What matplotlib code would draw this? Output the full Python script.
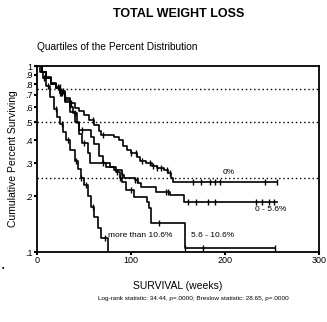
import numpy as np
import matplotlib
matplotlib.use("Agg")
import matplotlib.pyplot as plt
from matplotlib.ticker import FixedLocator, NullLocator

plt.rcParams["font.family"] = ["Liberation Sans", "DejaVu Sans"]

# Kaplan-Meier step curves (weeks, cumulative proportion surviving)
t_0 = [0, 5, 10, 15, 20, 25, 29.5, 35, 40, 45, 50, 55, 61, 66, 68, 82, 87, 92, 96,
       100, 106, 110, 116, 122, 128, 135, 140, 143, 145, 256]
s_0 = [1.0, 0.93, 0.87, 0.81, 0.77, 0.73, 0.673, 0.63, 0.594, 0.57, 0.545, 0.51, 0.482,
       0.45, 0.426, 0.415, 0.40, 0.37, 0.354, 0.34, 0.324, 0.31, 0.30, 0.29, 0.283,
       0.276, 0.265, 0.25, 0.238, 0.238]
c_0 = [22, 24, 26, 28, 30, 36, 60, 70, 100, 105, 112, 120, 124, 128, 132, 138, 142,
       166, 175, 184, 189, 195, 243, 256]

t_1 = [0, 5, 10, 15, 20, 25, 30, 35, 38, 43, 45, 54, 58, 61, 66, 70, 74, 82, 90, 93,
       100, 104, 108, 111, 124, 127, 135, 142, 153, 156, 255]
s_1 = [1.0, 0.93, 0.86, 0.80, 0.76, 0.72, 0.66, 0.60, 0.56, 0.494, 0.453, 0.453, 0.415,
       0.38, 0.33, 0.30, 0.287, 0.276, 0.26, 0.25, 0.25, 0.244, 0.235, 0.224, 0.224,
       0.21, 0.21, 0.202, 0.202, 0.186, 0.186]
c_1 = [25, 27, 40, 48, 70, 90, 104, 107, 137, 139, 161, 169, 182, 189, 233, 240, 247, 252]

t_2 = [0, 5, 10, 15, 20, 25, 29.5, 35, 40, 45, 48, 54, 56, 75, 78, 84, 88, 90.5, 94.7,
       103, 117, 119, 121, 158, 253]
s_2 = [1.0, 0.93, 0.86, 0.80, 0.76, 0.72, 0.64, 0.566, 0.50, 0.43, 0.385, 0.34, 0.30,
       0.30, 0.287, 0.27, 0.25, 0.238, 0.216, 0.198, 0.186, 0.172, 0.143, 0.105, 0.105]
c_2 = [23, 26, 50, 85, 88, 100, 130, 158, 177, 253]

t_3 = [0, 3, 6, 10, 14, 18, 21, 24, 28, 31, 35, 40, 44, 47, 50, 54, 58, 61, 65, 68, 76]
s_3 = [1.0, 0.93, 0.86, 0.78, 0.68, 0.59, 0.53, 0.49, 0.44, 0.40, 0.353, 0.31, 0.28,
       0.25, 0.23, 0.20, 0.175, 0.154, 0.135, 0.119, 0.08]
c_3 = [8, 12, 20, 27, 33, 42, 47, 52, 60, 72]

groups = [
    (t_0, s_0, c_0, "0%", (198, 0.258)),
    (t_1, s_1, c_1, "0 - 5.6%", (232, 0.163)),
    (t_2, s_2, c_2, "5.6 - 10.6%", (164, 0.117)),
    (t_3, s_3, c_3, "more than 10.6%", (76, 0.117)),
]

y_ticks = [0.1, 0.2, 0.3, 0.4, 0.5, 0.6, 0.7, 0.8, 0.9, 1.0]
y_labels = [".1", ".2", ".3", ".4", ".5", ".6", ".7", ".8", ".9", "1"]
x_ticks = [0, 100, 200, 300]
quartiles = [0.75, 0.5, 0.25]

fig = plt.figure(figsize=(3.27, 3.22), dpi=100)
ax = fig.add_axes([0.113, 0.217, 0.862, 0.578])

for q in quartiles:
    ax.axhline(q, color="black", lw=1.0, ls=(0, (1, 2)), zorder=1)

for t, s, cens, name, (lx, ly) in groups:
    t = np.asarray(t, float)
    s = np.asarray(s, float)
    ax.step(t, s, where="post", color="black", lw=1.2, zorder=3)
    idx = np.searchsorted(t, cens, side="right") - 1
    ax.plot(cens, s[idx], ls="none", marker="|", ms=4.5, mew=1.0, color="black", zorder=4)
    ax.text(lx, ly, name, fontsize=6, va="bottom", ha="left")

ax.set_yscale("log")
ax.set_xlim(0, 300)
ax.set_ylim(0.1, 1.0)
ax.yaxis.set_major_locator(FixedLocator(y_ticks))
ax.yaxis.set_minor_locator(NullLocator())
ax.set_yticklabels(y_labels)
ax.set_xticks(x_ticks)
ax.tick_params(axis="both", direction="out", length=2, width=1.5, labelsize=6.5, pad=1)
for sp in ax.spines.values():
    sp.set_linewidth(1.3)

ax.set_ylabel("Cumulative Percent Surviving", fontsize=7.5, labelpad=5)
ax.set_xlabel("SURVIVAL (weeks)", fontsize=7.5, labelpad=11)

fig.text(0.545, 0.955, "TOTAL WEIGHT LOSS", ha="center", va="center",
         fontsize=9, fontweight="bold")
fig.text(0.113, 0.854, "Quartiles of the Percent Distribution", ha="left",
         va="center", fontsize=7.3)
fig.text(0.59, 0.074, "Log-rank statistic: 34.44, p=.0000; Breslow statistic: 28.65, p=.0000",
         ha="center", va="center", fontsize=4.6)
fig.text(0.006, 0.168, "\u25aa", fontsize=5, ha="left", va="center")

fig.savefig("out.png", dpi=100)
